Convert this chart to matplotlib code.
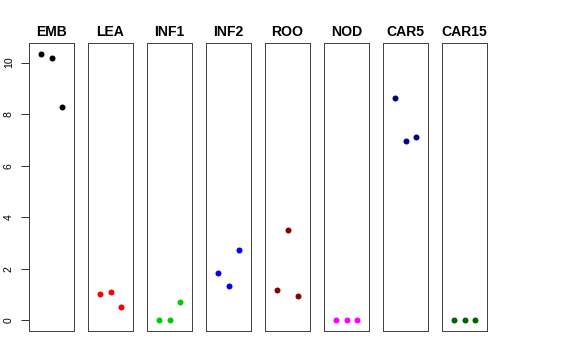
import matplotlib.pyplot as plt

# values (3 replicates per tissue)
tissues = ['EMB', 'LEA', 'INF1', 'INF2', 'ROO', 'NOD', 'CAR5', 'CAR15']
colors = ['black', 'red', '#00CD00', 'blue', '#8B0000', 'magenta', '#00008B', '#006400']
replicate = [1, 2, 3]
emb = [10.35, 10.19, 8.28]
lea = [1.01, 1.11, 0.50]
inf1 = [0.0, 0.0, 0.70]
inf2 = [1.84, 1.32, 2.73]
roo = [1.16, 3.49, 0.94]
nod = [0.0, 0.0, 0.0]
car5 = [8.64, 6.95, 7.10]
car15 = [0.0, 0.0, 0.0]
values = [emb, lea, inf1, inf2, roo, nod, car5, car15]

plt.rcParams['font.family'] = ['Liberation Sans', 'DejaVu Sans']

W, H = 576, 360
fig = plt.figure(figsize=(W / 72, H / 72), dpi=72)

ymax = max(max(v) for v in values)
ymin = 0.0
pad = (ymax - ymin) * 0.04

for i, (name, col, vals) in enumerate(zip(tissues, colors, values)):
    left = 29 + 59 * i
    ax = fig.add_axes([left / W, 29 / H, 45 / W, 288 / H])
    ax.plot(replicate, vals, 'o', color=col, ms=6, mec='none')
    ax.set_xlim(-0.16, 4.16)
    ax.set_ylim(ymin - pad, ymax + pad)
    ax.set_xticks([])
    for s in ax.spines.values():
        s.set_color('#444444')
        s.set_linewidth(1)
    ax.set_title(name, fontsize=14, fontweight='bold', pad=7)
    if i == 0:
        ax.set_yticks([0, 2, 4, 6, 8, 10])
        ax.tick_params(axis='y', length=8, width=0.8, pad=7, labelsize=10.5)
        for lab in ax.get_yticklabels():
            lab.set_rotation(90)
            lab.set_va('center')
    else:
        ax.set_yticks([])

fig.savefig('out.png', dpi=72)
